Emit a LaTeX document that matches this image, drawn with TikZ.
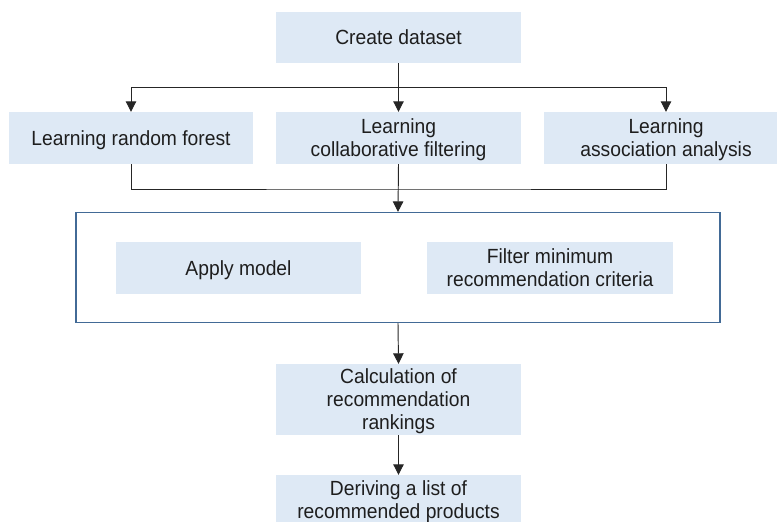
\documentclass[tikz,border=0pt]{standalone}
\usepackage{fontspec}
\setmainfont{Liberation Sans}[FakeStretch=0.94]
\usetikzlibrary{arrows.meta}
\definecolor{boxfill}{RGB}{222,233,245}
\definecolor{frameblue}{RGB}{66,106,150}
\definecolor{txt}{RGB}{30,30,30}
\tikzset{
  stepbox/.style={rectangle, fill=boxfill, draw=none, align=center, text=txt,
    font=\fontsize{20.5}{23}\selectfont, inner sep=0pt, text depth=0pt},
  conn/.style={draw=black!85, line width=0.95pt},
  arr/.style={conn, -{Triangle[length=10.5pt,width=10.5pt]}},
  frame/.style={rectangle, draw=frameblue, line width=1.3pt, fill=white, inner sep=0pt}
}
\begin{document}
\begin{tikzpicture}[x=1pt,y=-1pt]
\useasboundingbox (0,0) rectangle (777,522);
\begin{scope}
\clip (0,0) rectangle (777,522);
\node[stepbox, minimum width=245pt, minimum height=51pt] (create) at (398.5,37.5) {Create dataset};
\node[stepbox, minimum width=244pt, minimum height=52pt] (rf) at (131,138) {Learning random forest};
\node[stepbox, minimum width=245pt, minimum height=52pt] (cf) at (398.5,138) {Learning\\collaborative filtering};
\node[stepbox, minimum width=244pt, minimum height=52pt] (aa) at (666,138) {Learning\\association analysis};
\node[frame, minimum width=644pt, minimum height=110pt] (big) at (398,267.5) {};
\node[stepbox, minimum width=245pt, minimum height=52pt] (apply) at (238.5,268) {Apply model};
\node[stepbox, minimum width=246pt, minimum height=52pt] (filter) at (550,268) {Filter minimum\\recommendation criteria};
\node[stepbox, minimum width=245pt, minimum height=71pt] (calc) at (398.5,399.5) {Calculation of\\recommendation\\rankings};
\node[stepbox, minimum width=245pt, minimum height=50pt] (derive) at (398.5,500) {Deriving a list of\\recommended products};
\coordinate (hs) at (398.5,87);
\coordinate (hl) at (131,87);
\coordinate (hr) at (666,87);
\coordinate (jn) at (398.5,189);
\draw[conn] (create.south) -- (hs);
\draw[conn] (hl) -- (hr);
\draw[arr] (hl) -- (rf.north);
\draw[arr] (hs) -- (cf.north);
\draw[arr] (hr) -- (aa.north);
\draw[conn] (rf.south) |- (jn) -| (aa.south);
\draw[arr] (cf.south) -- (big.north);
\draw[arr] (big.south) -- (calc.north);
\draw[arr] (calc.south) -- (derive.north);
\end{scope}
\end{tikzpicture}
\end{document}
